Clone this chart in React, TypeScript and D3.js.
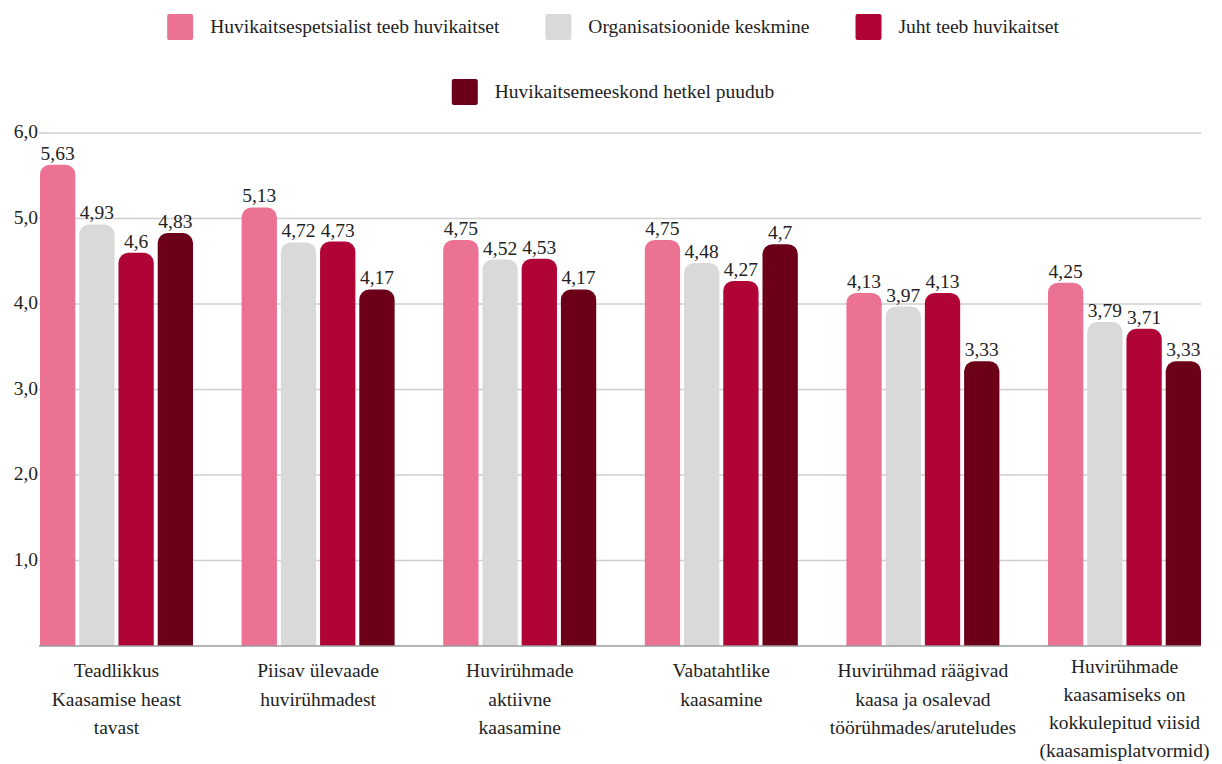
import React from "react";
import * as d3 from "d3";

const categories: string[][] = [
  ["Teadlikkus", "Kaasamise heast", "tavast"],
  ["Piisav ülevaade", "huvirühmadest"],
  ["Huvirühmade", "aktiivne", "kaasamine"],
  ["Vabatahtlike", "kaasamine"],
  ["Huvirühmad räägivad", "kaasa ja osalevad", "töörühmades/aruteludes"],
  ["Huvirühmade", "kaasamiseks on", "kokkulepitud viisid", "(kaasamisplatvormid)"],
];

const seriesNames = [
  "Huvikaitsespetsialist teeb huvikaitset",
  "Organisatsioonide keskmine",
  "Juht teeb huvikaitset",
  "Huvikaitsemeeskond hetkel puudub",
];
const seriesColors = ["#EC7294", "#D9D9D9", "#B00436", "#6D0019"];

const spetsialist = [5.63, 5.13, 4.75, 4.75, 4.13, 4.25];
const keskmine = [4.93, 4.72, 4.52, 4.48, 3.97, 3.79];
const juht = [4.6, 4.73, 4.53, 4.27, 4.13, 3.71];
const puudub = [4.83, 4.17, 4.17, 4.7, 3.33, 3.33];
const seriesValues = [spetsialist, keskmine, juht, puudub];

const yTicks = [1, 2, 3, 4, 5, 6];

const W = 1222;
const H = 764;
const FONT = '"Liberation Serif", "Times New Roman", serif';

function measure(text: string, size: number): number {
  if (typeof document === "undefined") return text.length * size * 0.45;
  const c = document.createElement("canvas");
  const ctx = c.getContext("2d")!;
  ctx.font = `${size}px "Liberation Serif"`;
  return ctx.measureText(text).width;
}

function topRounded(x: number, y: number, w: number, h: number, r: number) {
  const p = d3.path();
  const rr = Math.min(r, w / 2, h);
  p.moveTo(x, y + h);
  p.lineTo(x, y + rr);
  p.arcTo(x, y, x + rr, y, rr);
  p.lineTo(x + w - rr, y);
  p.arcTo(x + w, y, x + w, y + rr, rr);
  p.lineTo(x + w, y + h);
  p.closePath();
  return p.toString();
}

const txt: React.CSSProperties = { fontFamily: FONT };

export default function App() {
  const left = 40;
  const right = 1201;
  const top = 133;
  const bottom = 646;

  const x0 = d3
    .scaleBand<number>()
    .domain(d3.range(categories.length))
    .range([left, right])
    .paddingInner(0.241)
    .paddingOuter(0);
  const x1 = d3
    .scaleBand<number>()
    .domain(d3.range(seriesNames.length))
    .range([0, x0.bandwidth()])
    .paddingInner(0.1)
    .paddingOuter(0);
  const y = d3.scaleLinear().domain([0, 6]).range([bottom, top]);

  const fmt = (v: number) => String(v).replace(".", ",");

  const fs = 19.5;
  const sq = 26;
  const sqGap = 17;
  const itemGap = 46;
  const rows = [[0, 1, 2], [3]];
  const rowY = [27, 92];
  const legendCenter = 613;

  return (
    <svg
      width={W}
      height={H}
      style={{ position: "absolute", left: 0, top: 0, background: "#fff", fontFamily: FONT }}
    >
      {yTicks.map((t) => (
        <g key={t}>
          <line x1={left - 1} x2={right} y1={y(t)} y2={y(t)} stroke="#CFCFCF" strokeWidth={1.5} />
          <text x={left - 2} y={y(t)} dy="0.27em" textAnchor="end" fontSize={fs} fill="#222" style={txt}>
            {t.toFixed(1).replace(".", ",")}
          </text>
        </g>
      ))}

      {categories.map((_, ci) => (
        <g key={ci} transform={`translate(${x0(ci)},0)`}>
          {seriesValues.map((vals, si) => {
            const v = vals[ci];
            const bx = x1(si)!;
            const by = y(v);
            return (
              <g key={si}>
                <path d={topRounded(bx, by, x1.bandwidth(), bottom - by, 10)} fill={seriesColors[si]} />
                <text
                  x={bx + x1.bandwidth() / 2}
                  y={by - 5}
                  textAnchor="middle"
                  fontSize={fs}
                  fill="#222"
                  style={txt}
                >
                  {fmt(v)}
                </text>
              </g>
            );
          })}
        </g>
      ))}

      <line x1={left - 1} x2={right} y1={bottom} y2={bottom} stroke="#9A9A9A" strokeWidth={1.5} />

      {categories.map((lines, ci) => {
        const cx = x0(ci)! + x0.bandwidth() / 2;
        const lh = lines.length > 3 ? 28 : 28.5;
        const y0 = lines.length > 3 ? 673 : 677;
        return (
          <text key={ci} x={cx} y={y0} textAnchor="middle" fontSize={fs} fill="#222" style={txt}>
            {lines.map((l, li) => (
              <tspan key={li} x={cx} dy={li === 0 ? 0 : lh}>
                {l}
              </tspan>
            ))}
          </text>
        );
      })}

      {rows.map((row, ri) => {
        const widths = row.map((si) => sq + sqGap + measure(seriesNames[si], fs));
        const total = d3.sum(widths) + itemGap * (row.length - 1);
        let cx = legendCenter - total / 2;
        return (
          <g key={ri}>
            {row.map((si, k) => {
              const sx = cx;
              cx += widths[k] + itemGap;
              return (
                <g key={si}>
                  <rect x={sx} y={rowY[ri] - sq / 2} width={sq} height={sq} rx={2} fill={seriesColors[si]} />
                  <text x={sx + sq + sqGap} y={rowY[ri]} dy="0.3em" fontSize={fs} fill="#222" style={txt}>
                    {seriesNames[si]}
                  </text>
                </g>
              );
            })}
          </g>
        );
      })}
    </svg>
  );
}
